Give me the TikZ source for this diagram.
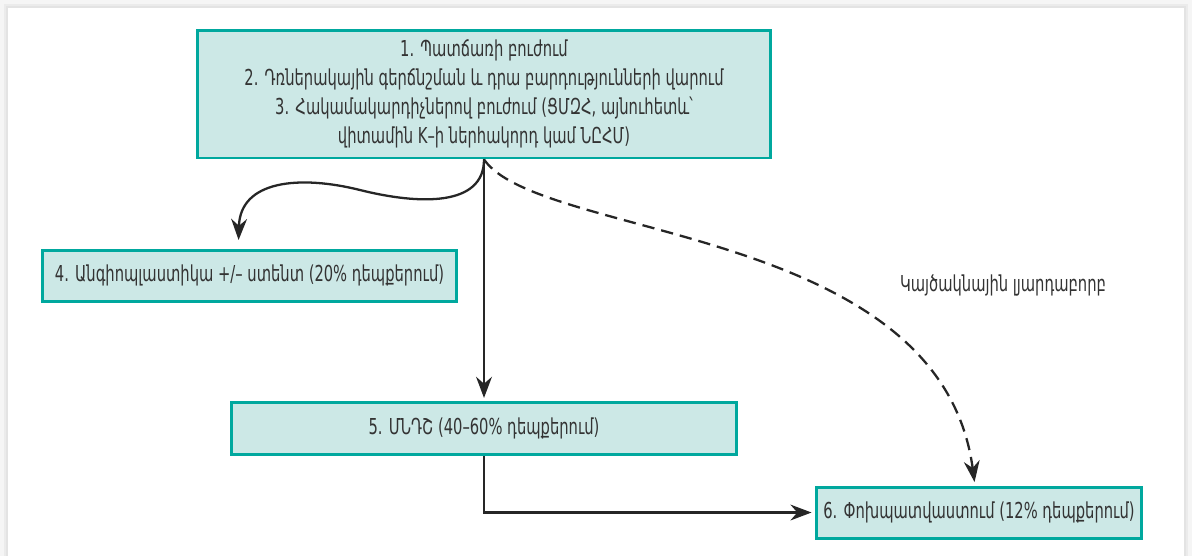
\documentclass[tikz,border=0pt]{standalone}
\usepackage{fontspec}
\newfontfamily\armfont[FakeStretch=0.67]{DejaVu Sans}
\usepackage{tikz}
\usetikzlibrary{arrows.meta, positioning}
\definecolor{tealEdge}{RGB}{0,168,158}
\definecolor{tealFill}{RGB}{204,232,230}

\begin{document}
\begin{tikzpicture}[
        x=0.02cm, y=-0.02cm,
        font=\armfont\fontsize{12.5}{16.5}\selectfont,
        >={Stealth[length=12pt, width=9pt]},
        % styles
        stageBox/.style={rectangle, draw=tealEdge, line width=1.7pt, fill=tealFill, text=black!80, align=center, inner sep=2pt},
        conn/.style={->, line width=1.3pt, draw=black!85, shorten >=2pt},
        connDash/.style={conn, dash pattern=on 7pt off 4pt}
    ]
    \useasboundingbox (0,0) rectangle (1192,556);

    % panel and its shadow
    \fill[black!4] (0,0) rectangle (1192,556);
    \fill[black!8] (4,4) rectangle (1188,556);
    \fill[black!11] (6,6) rectangle (1186,556);
    \fill[white] (8,8) rectangle (1184,556);

    % nodes
    \node [stageBox, minimum width=11.48cm, minimum height=2.56cm] (cause) at (484,94)
        {1. Պատճառի բուժում\\2. Դռներակային գերճնշման և դրա բարդությունների վարում\\3. Հակամակարդիչներով բուժում (ՑՄԶՀ, այնուհետև՝\\վիտամին K–ի ներհակորդ կամ ՆԸՀՄ)};
    \node [stageBox, minimum width=10.1cm, minimum height=1.04cm, below=4.84cm of cause] (tips) {5. ՄՆԴՇ (40–60\% դեպքերում)};
    \node [stageBox, minimum width=8.3cm, minimum height=1.02cm] (angio) at (249.5,275.5) {4. Անգիոպլաստիկա +/– ստենտ (20\% դեպքերում)};
    \node [stageBox, minimum width=6.5cm, minimum height=1.02cm] (transpl) at (979,512.5) {6. Փոխպատվաստում (12\% դեպքերում)};

    \node [text=black!80] (fulminant) at (1003,285) {Կայծակնային լյարդաբորբ};

    % connections
    \draw [conn] (cause.south) -- (tips.north);
    \draw [conn] (cause.south) .. controls +(0,47) and (420,205) .. (360,190)
        .. controls (300,175) and (240,180) .. ([xshift=-0.22cm, yshift=0.1cm]angio.north);
    \draw [connDash] (cause.south) .. controls (540,240) and (940,225) .. ([xshift=-0.08cm]transpl.north);
    \draw [conn] (tips.south) |- (transpl.west);

\end{tikzpicture}
\end{document}
